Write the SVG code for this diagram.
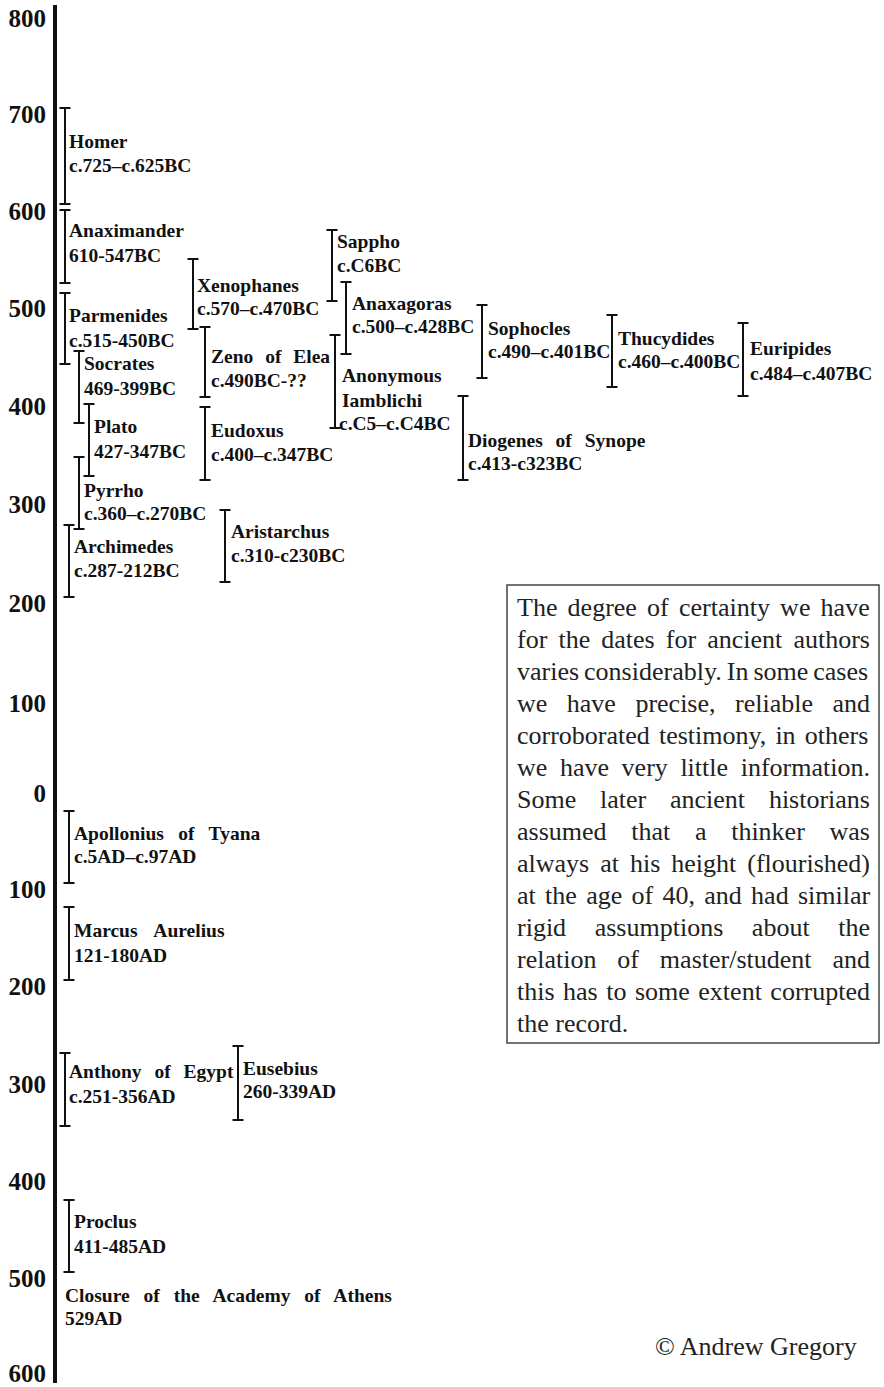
<svg xmlns="http://www.w3.org/2000/svg" width="884" height="1387" viewBox="0 0 884 1387">
<style>
.ax{fill:#111;font-family:"Liberation Serif","Times New Roman",serif;font-weight:bold;font-size:25px;text-anchor:end}
.br{fill:none;stroke:#111;stroke-width:2}
.lb{fill:#111;font-family:"Liberation Serif","Times New Roman",serif;font-weight:bold;font-size:19.5px}
.nt{fill:#222;font-family:"Liberation Serif","Times New Roman",serif;font-size:26px}
.cp{fill:#222;font-family:"Liberation Serif","Times New Roman",serif;font-size:26px}
</style>
<rect width="884" height="1387" fill="#fff"/>
<g id="axis">
<line x1="55" y1="5" x2="55" y2="1383" stroke="#111" stroke-width="4"/>
<text class="ax" x="46" y="27">800</text>
<text class="ax" x="46" y="123">700</text>
<text class="ax" x="46" y="220">600</text>
<text class="ax" x="46" y="317">500</text>
<text class="ax" x="46" y="415">400</text>
<text class="ax" x="46" y="513">300</text>
<text class="ax" x="46" y="612">200</text>
<text class="ax" x="46" y="712">100</text>
<text class="ax" x="46" y="802">0</text>
<text class="ax" x="46" y="898">100</text>
<text class="ax" x="46" y="995">200</text>
<text class="ax" x="46" y="1093">300</text>
<text class="ax" x="46" y="1190">400</text>
<text class="ax" x="46" y="1287">500</text>
<text class="ax" x="46" y="1382">600</text>
</g>
<g id="connectors"></g>
<g id="homer"><path class="br" d="M59.5 108H70.5M65 108V204M59.5 204H70.5"/><text class="lb" x="69" y="148">Homer</text><text class="lb" x="69" y="172">c.725–c.625BC</text></g>
<g id="anaximander"><path class="br" d="M59.5 210H70.5M65 210V283M59.5 283H70.5"/><text class="lb" x="69" y="237">Anaximander</text><text class="lb" x="69" y="262">610-547BC</text></g>
<g id="parmenides"><path class="br" d="M59.5 293H70.5M65 293V364M59.5 364H70.5"/><text class="lb" x="69" y="322">Parmenides</text><text class="lb" x="69" y="347">c.515-450BC</text></g>
<g id="socrates"><path class="br" d="M73.5 351H84.5M79 351V423M73.5 423H84.5"/><text class="lb" x="84" y="370">Socrates</text><text class="lb" x="84" y="395">469-399BC</text></g>
<g id="plato"><path class="br" d="M83.5 404H94.5M89 404V476M83.5 476H94.5"/><text class="lb" x="94" y="433">Plato</text><text class="lb" x="94" y="458">427-347BC</text></g>
<g id="pyrrho"><path class="br" d="M73.5 457H84.5M79 457V529M73.5 529H84.5"/><text class="lb" x="84" y="497">Pyrrho</text><text class="lb" x="84" y="520">c.360–c.270BC</text></g>
<g id="archimedes"><path class="br" d="M63.5 525H74.5M69 525V597M63.5 597H74.5"/><text class="lb" x="74" y="553">Archimedes</text><text class="lb" x="74" y="577">c.287-212BC</text></g>
<g id="xenophanes"><path class="br" d="M187.5 259H198.5M193 259V329M187.5 329H198.5"/><text class="lb" x="197" y="292">Xenophanes</text><text class="lb" x="197" y="315">c.570–c.470BC</text></g>
<g id="zeno"><path class="br" d="M199.5 327H210.5M205 327V397M199.5 397H210.5"/><text class="lb" x="211" y="363" word-spacing="7">Zeno of Elea</text><text class="lb" x="211" y="387">c.490BC-??</text></g>
<g id="eudoxus"><path class="br" d="M199.5 407H210.5M205 407V480M199.5 480H210.5"/><text class="lb" x="211" y="437">Eudoxus</text><text class="lb" x="211" y="461">c.400–c.347BC</text></g>
<g id="aristarchus"><path class="br" d="M219.5 510H230.5M225 510V582M219.5 582H230.5"/><text class="lb" x="231" y="538">Aristarchus</text><text class="lb" x="231" y="562">c.310-c230BC</text></g>
<g id="sappho"><path class="br" d="M326.5 230H337.5M332 230V301M326.5 301H337.5"/><text class="lb" x="337" y="248">Sappho</text><text class="lb" x="337" y="272">c.C6BC</text></g>
<g id="anaxagoras"><path class="br" d="M340.5 282H351.5M346 282V354M340.5 354H351.5"/><text class="lb" x="352" y="310">Anaxagoras</text><text class="lb" x="352" y="333">c.500–c.428BC</text></g>
<g id="anonymous"><path class="br" d="M329.5 335H340.5M335 335V428M329.5 428H340.5"/><text class="lb" x="342" y="382">Anonymous</text><text class="lb" x="342" y="407">Iamblichi</text><text class="lb" x="339" y="430">c.C5–c.C4BC</text></g>
<g id="diogenes"><path class="br" d="M457.5 396H468.5M463 396V480M457.5 480H468.5"/><text class="lb" x="468" y="447" word-spacing="8">Diogenes of Synope</text><text class="lb" x="468" y="470">c.413-c323BC</text></g>
<g id="sophocles"><path class="br" d="M476.5 305H487.5M482 305V378M476.5 378H487.5"/><text class="lb" x="488" y="335">Sophocles</text><text class="lb" x="488" y="358">c.490–c.401BC</text></g>
<g id="thucydides"><path class="br" d="M606.5 315H617.5M612 315V387M606.5 387H617.5"/><text class="lb" x="618" y="345">Thucydides</text><text class="lb" x="618" y="368">c.460–c.400BC</text></g>
<g id="euripides"><path class="br" d="M737.5 323H748.5M743 323V396M737.5 396H748.5"/><text class="lb" x="750" y="355">Euripides</text><text class="lb" x="750" y="380">c.484–c.407BC</text></g>
<g id="apollonius"><path class="br" d="M63.5 811H74.5M69 811V883M63.5 883H74.5"/><text class="lb" x="74" y="840" word-spacing="9.5">Apollonius of Tyana</text><text class="lb" x="74" y="863">c.5AD–c.97AD</text></g>
<g id="marcus"><path class="br" d="M63.5 907H74.5M69 907V980M63.5 980H74.5"/><text class="lb" x="74" y="937" word-spacing="12">Marcus Aurelius</text><text class="lb" x="74" y="962">121-180AD</text></g>
<g id="anthony"><path class="br" d="M59.5 1053H70.5M65 1053V1126M59.5 1126H70.5"/><text class="lb" x="69" y="1078" word-spacing="8">Anthony of Egypt</text><text class="lb" x="69" y="1103">c.251-356AD</text></g>
<g id="eusebius"><path class="br" d="M232.5 1046H243.5M238 1046V1120M232.5 1120H243.5"/><text class="lb" x="243" y="1075">Eusebius</text><text class="lb" x="243" y="1098">260-339AD</text></g>
<g id="proclus"><path class="br" d="M63.5 1200H74.5M69 1200V1272M63.5 1272H74.5"/><text class="lb" x="74" y="1228">Proclus</text><text class="lb" x="74" y="1253">411-485AD</text></g>
<g id="closure"><text class="lb" x="65" y="1302" word-spacing="9">Closure of the Academy of Athens</text><text class="lb" x="65" y="1325">529AD</text></g>
<g id="note">
<rect x="507" y="585" width="372" height="458" fill="#fff" stroke="#444" stroke-width="1.5"/>
<text class="nt" x="517" y="616" word-spacing="3.7">The degree of certainty we have</text>
<text class="nt" x="517" y="648" word-spacing="4.6">for the dates for ancient authors</text>
<text class="nt" x="517" y="680" word-spacing="-1.5">varies considerably. In some cases</text>
<text class="nt" x="517" y="712" word-spacing="13">we have precise, reliable and</text>
<text class="nt" x="517" y="744" word-spacing="2.6">corroborated testimony, in others</text>
<text class="nt" x="517" y="776" word-spacing="6.1">we have very little information.</text>
<text class="nt" x="517" y="808" word-spacing="17.3">Some later ancient historians</text>
<text class="nt" x="517" y="840" word-spacing="18.2">assumed that a thinker was</text>
<text class="nt" x="517" y="872" word-spacing="4.5">always at his height (flourished)</text>
<text class="nt" x="517" y="904" word-spacing="2.8">at the age of 40, and had similar</text>
<text class="nt" x="517" y="936" word-spacing="22.1">rigid assumptions about the</text>
<text class="nt" x="517" y="968" word-spacing="14.4">relation of master/student and</text>
<text class="nt" x="517" y="1000" word-spacing="2">this has to some extent corrupted</text>
<text class="nt" x="517" y="1032">the record.</text>
</g>
<g id="copyright"><text class="cp" x="655" y="1355">© Andrew Gregory</text></g>
</svg>
